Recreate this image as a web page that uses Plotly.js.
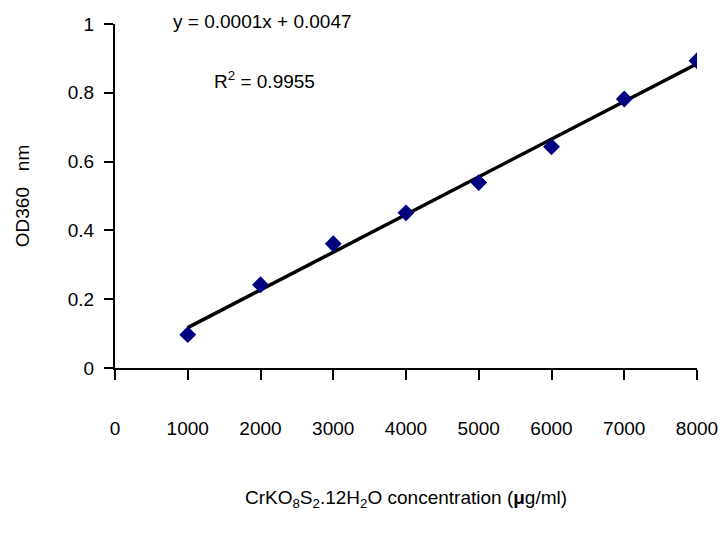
<!DOCTYPE html>
<html>
<head>
<meta charset="utf-8">
<script src="https://cdn.plot.ly/plotly-3.0.1.min.js"></script>
<style>html,body{margin:0;padding:0;background:#fff;}#chart{width:721px;height:542px;}</style>
</head>
<body>
<div id="chart"></div>
<script>
const concentration = [1000, 2000, 3000, 4000, 5000, 6000, 7000, 8000];
const od360 = [0.097, 0.242, 0.361, 0.451, 0.539, 0.643, 0.782, 0.893];
const xTicks = [0, 1000, 2000, 3000, 4000, 5000, 6000, 7000, 8000];
const yTicks = [0, 0.2, 0.4, 0.6, 0.8, 1];
const yTickText = ['0', '0.2', '0.4', '0.6', '0.8', '1'];
const equationText = 'y = 0.0001x + 0.0047';
const r2Text = 'R<sup>2</sup> = 0.9955';

// least-squares linear trendline computed from the data
const n = concentration.length;
const mx = concentration.reduce((a, b) => a + b, 0) / n;
const my = od360.reduce((a, b) => a + b, 0) / n;
let sxy = 0, sxx = 0;
for (let i = 0; i < n; i++) {
  sxy += (concentration[i] - mx) * (od360[i] - my);
  sxx += (concentration[i] - mx) ** 2;
}
const slope = sxy / sxx;
const intercept = my - slope * mx;
const trendX = [concentration[0], concentration[n - 1]];
const trendY = trendX.map(x => slope * x + intercept);

const font = {family: 'Liberation Sans, Arial, sans-serif', size: 19, color: '#000'};

const data = [
  {
    x: trendX, y: trendY, type: 'scatter', mode: 'lines',
    line: {color: '#000', width: 3.5}, hoverinfo: 'skip', showlegend: false
  },
  {
    x: concentration, y: od360, type: 'scatter', mode: 'markers',
    marker: {symbol: 'diamond', size: 13, color: '#000080'}, showlegend: false
  }
];

const layout = {
  width: 721, height: 542,
  margin: {l: 115, r: 24, t: 24, b: 174},
  paper_bgcolor: '#fff', plot_bgcolor: '#fff',
  font: font,
  showlegend: false,
  xaxis: {
    range: [0, 8000], tickvals: xTicks, ticktext: xTicks.map(String),
    showgrid: false, zeroline: false, showline: true, linecolor: '#000', linewidth: 2,
    ticks: 'outside', ticklen: 10, tickwidth: 2, tickcolor: '#000',
    ticklabelstandoff: 32,
    tickfont: font,
    title: {text: 'CrKO<sub>8</sub>S<sub>2</sub>.12H<sub>2</sub>O concentration (<b>μ</b>g/ml)', font: font, standoff: 53}
  },
  yaxis: {
    range: [0, 1], tickvals: yTicks, ticktext: yTickText,
    showgrid: false, zeroline: false, showline: true, linecolor: '#000', linewidth: 2,
    ticks: 'outside', ticklen: 9, tickwidth: 2, tickcolor: '#000',
    ticklabelstandoff: 6,
    tickfont: font,
    title: {text: 'OD360   nm', font: font, standoff: 33}
  },
  annotations: [
    {text: equationText, xref: 'paper', yref: 'paper', x: (262 - 115) / 582, y: 1 + (24 - 22) / 344,
     xanchor: 'center', yanchor: 'middle', showarrow: false, font: font},
    {text: r2Text, xref: 'paper', yref: 'paper', x: (264 - 115) / 582, y: (368 - 80) / 344,
     xanchor: 'center', yanchor: 'middle', showarrow: false, font: font}
  ]
};

Plotly.newPlot('chart', data, layout, {displayModeBar: false});
</script>
</body>
</html>
